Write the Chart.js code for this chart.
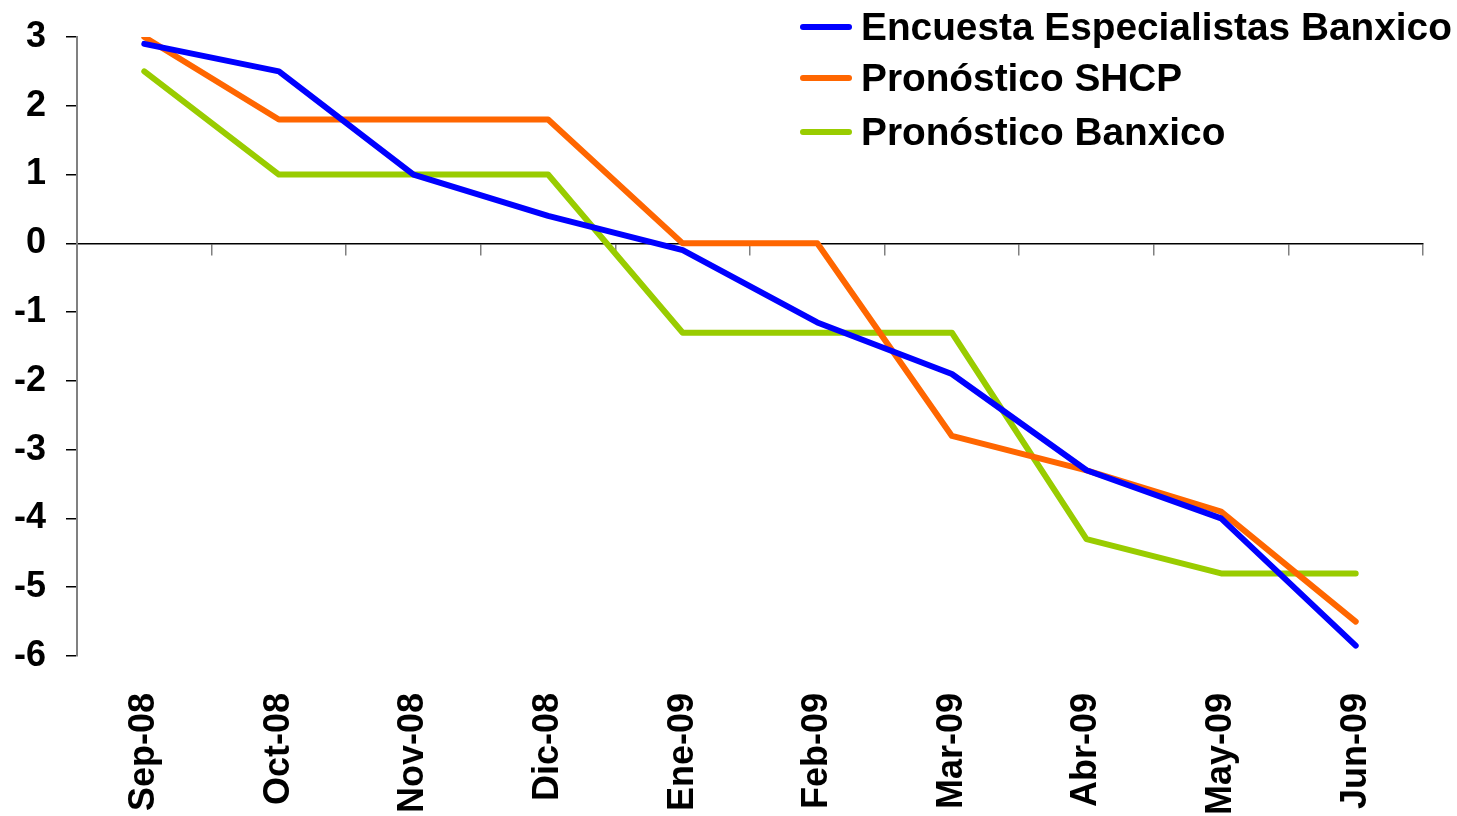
<!DOCTYPE html>
<html lang="es">
<head>
    <meta charset="UTF-8">
    <title>Pronósticos PIB</title>
    <script src="https://cdn.jsdelivr.net/npm/chart.js"></script>
    <style>
        html, body {
            margin: 0;
            padding: 0;
            background: #fff;
        }
        .wrap {
            position: relative;
            width: 1457px;
            height: 816px;
        }
        #legend {
            position: absolute;
            left: 800px;
            top: 0;
            font-family: "Liberation Sans", Arial, sans-serif;
            font-weight: bold;
            font-size: 38.8px;
            color: #000;
        }
        .row {
            position: absolute;
            left: 0;
            height: 40px;
            white-space: nowrap;
        }
        .row .swatch {
            position: absolute;
            left: 0;
            top: 17px;
            width: 52px;
            height: 6px;
            border-radius: 3px;
        }
        .row span {
            position: absolute;
            left: 61px;
            top: 0;
            line-height: 40px;
        }
    </style>
</head>
<body>
    <div class="wrap">
        <canvas id="chart" width="1457" height="816"></canvas>
        <div id="legend"></div>
    </div>

    <script>
        const months = ["Sep-08", "Oct-08", "Nov-08", "Dic-08", "Ene-09", "Feb-09", "Mar-09", "Abr-09", "May-09", "Jun-09"];

        const encuestaEspecialistas = [2.9, 2.5, 1.0, 0.4, -0.1, -1.15, -1.9, -3.3, -4.0, -5.85];
        const pronosticoSHCP = [3.0, 1.8, 1.8, 1.8, 0, 0, -2.8, -3.3, -3.9, -5.5];
        const pronosticoBanxico = [2.5, 1.0, 1.0, 1.0, -1.3, -1.3, -1.3, -4.3, -4.8, -4.8];

        const seriesNames = ["Encuesta Especialistas Banxico", "Pronóstico SHCP", "Pronóstico Banxico"];
        const seriesColors = ["#0000ff", "#ff6600", "#99cc00"];

        const font = { family: "'Liberation Sans', Arial, sans-serif", size: 36, weight: "bold" };

        const datasets = [encuestaEspecialistas, pronosticoSHCP, pronosticoBanxico].map((values, i) => ({
            label: seriesNames[i],
            data: values,
            borderColor: seriesColors[i],
            backgroundColor: seriesColors[i],
            borderWidth: 6,
            pointRadius: 0,
            tension: 0,
            borderCapStyle: "round",
            borderJoinStyle: "round",
            xAxisID: "x",
            yAxisID: "y"
        }));

        new Chart(document.getElementById("chart"), {
            type: "line",
            data: { labels: months, datasets: datasets },
            options: {
                responsive: false,
                animation: false,
                layout: {
                    autoPadding: false,
                    padding: { top: 37, right: 34, left: 0, bottom: 0 }
                },
                plugins: {
                    legend: { display: false },
                    tooltip: { enabled: false }
                },
                scales: {
                    x: {
                        type: "category",
                        position: "bottom",
                        offset: true,
                        grid: { display: false },
                        border: { display: false },
                        ticks: {
                            font: font,
                            color: "#000",
                            minRotation: 90,
                            maxRotation: 90,
                            padding: 29,
                            autoSkip: false
                        },
                        afterFit: scale => { scale.height = 160; }
                    },
                    // zero line with the category separators
                    x2: {
                        type: "category",
                        position: { y: 0 },
                        offset: true,
                        grid: {
                            offset: true,
                            drawOnChartArea: false,
                            drawTicks: true,
                            tickLength: 11,
                            color: "#808080",
                            lineWidth: 1.5
                        },
                        border: { color: "#000", width: 1.5 },
                        ticks: { display: false }
                    },
                    y: {
                        min: -6,
                        max: 3,
                        ticks: {
                            stepSize: 1,
                            font: font,
                            color: "#000",
                            padding: 20
                        },
                        grid: {
                            drawOnChartArea: false,
                            drawTicks: true,
                            tickLength: 11,
                            color: "#000",
                            lineWidth: 1.5
                        },
                        border: { color: "#808080", width: 2 },
                        afterFit: scale => {
                            scale.width = 77;
                            // keep the plot top fixed by layout padding, not the label height
                            scale.paddingTop = 0;
                            scale.paddingBottom = 0;
                        }
                    }
                }
            }
        });

        // legend rows
        const legendRows = [27, 78, 132];
        const legend = document.getElementById("legend");
        seriesNames.forEach((name, i) => {
            const row = document.createElement("div");
            row.className = "row";
            row.style.top = (legendRows[i] - 20) + "px";
            row.innerHTML = `<div class="swatch" style="background:${seriesColors[i]}"></div><span>${name}</span>`;
            legend.appendChild(row);
        });
    </script>
</body>
</html>
